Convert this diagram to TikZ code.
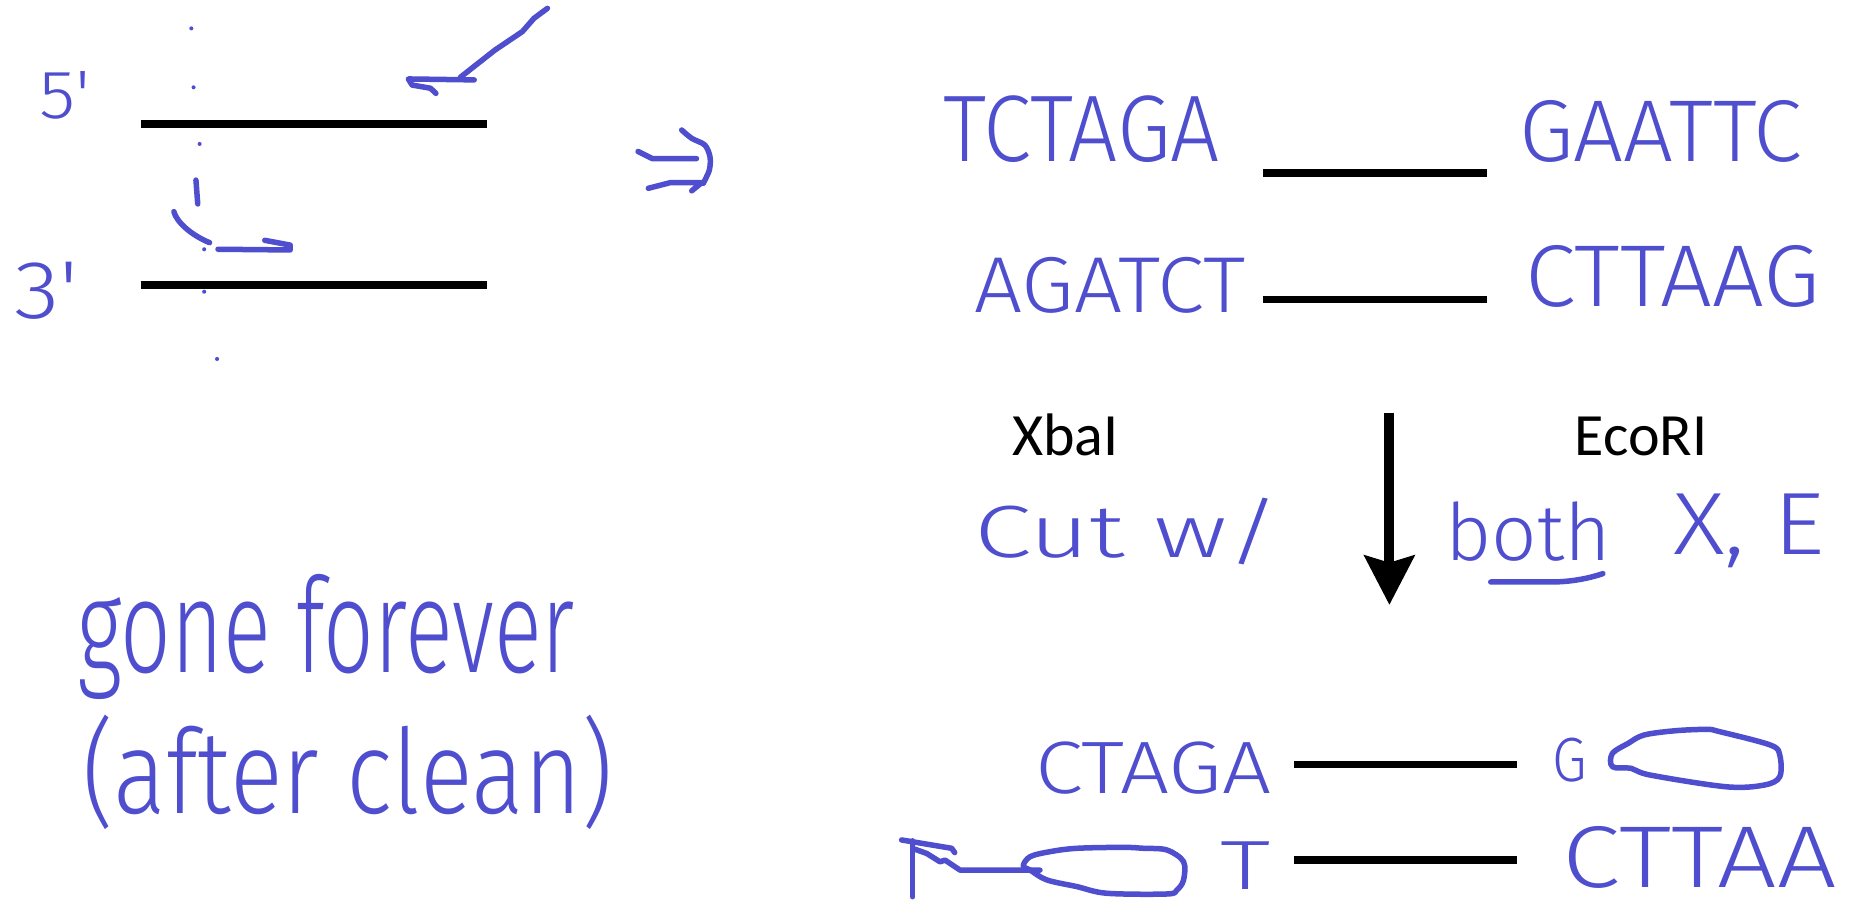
\documentclass[tikz,border=0pt]{standalone}
\usepackage{fontspec}
\usepackage{graphicx}
\usetikzlibrary{arrows.meta}
\newfontfamily\hw{Fira Sans Light}
\newfontfamily\calib{Carlito}
\definecolor{ink}{RGB}{78,78,206}
\newlength\uu \setlength\uu{1.1926pt}
\newcommand\hwt[3]{\resizebox*{#1\uu}{#2\uu}{\hw #3}}
\tikzset{
  hwn/.style={inner sep=0pt, outer sep=0pt, text=ink},
  pen/.style={draw=ink, line width=5.5pt, line cap=round, line join=round},
  dna/.style={draw=black, line width=7.5pt},
  speck/.style={fill=ink},
  lab/.style={inner sep=0pt, font=\calib\fontsize{60}{72}\selectfont, anchor=base},
}
\begin{document}
\begin{tikzpicture}[x=1.1926pt,y=-1.1926pt]
\useasboundingbox (0,0) rectangle (1568,757);

% ---------- left: double strand ----------
\draw[dna] (118,104) -- (408,104);
\draw[dna] (118,239) -- (408,239);
\node[hwn] (five)  at (54.5,80)  {\hwt{43}{40}{5\textquotesingle}};
\node[hwn] (three) at (39,244)   {\hwt{54}{48}{3\textquotesingle}};

% dotted cut line
\foreach \p in {(160.4,23.8),(162.3,73.2),(167.4,120.7),(171.2,209),(171.2,244.6),(182,301)}
  \fill[speck] \p circle (1.7);
\draw[pen] (164.3,151) -- (165.8,171);
\draw[pen] (145.8,177.5) .. controls (148,186) and (160,197) .. (175.8,203.5);
\draw[pen] (182.8,209) -- (243.3,209.6) -- (243.3,205.5) -- (222,201.5);

% hooked pointer at top
\draw[pen] (459,7) -- (447.7,15.4) -- (438,26.5) -- (415,42) -- (386,64.8);
\draw[pen] (397.6,67) -- (342.4,66.2) -- (345.5,71.3) -- (361,74) -- (365.5,78.3);

% implies sign
\draw[pen] (535,127) -- (547,133) -- (584,133);
\draw[pen] (543.6,157.9) -- (561.8,153.2) -- (588.4,153.2) -- (580,160);
\draw[pen] plot[smooth] coordinates {(571.6,109) (580,116) (591,121.6) (595.3,131.4) (594.8,142.5) (589.7,153.7)};

% gone forever
\node[hwn] (gone)  at (273.5,534.5) {\hwt{417}{105}{gone forever}};
\node[hwn] (after) at (291.5,648)   {\hwt{445}{96}{(after clean)}};

% ---------- right: fragment ----------
\node[hwn] (tctaga) at (907,108)     {\hwt{232}{56}{TCTAGA}};
\node[hwn] (gaattc) at (1392.5,110)  {\hwt{237}{52}{GAATTC}};
\node[hwn] (agatct) at (930.5,239.5) {\hwt{227}{47}{AGATCT}};
\node[hwn] (cttaag) at (1402.5,232)  {\hwt{247}{52}{CTTAAG}};
\draw[dna] (1059,145) -- (1247,145);
\draw[dna] (1059,251) -- (1247,251);

% enzymes and arrow
\node[lab] (xbai)  at (893.5,382) {XbaI};
\node[lab] (ecori) at (1376,382)  {EcoRI};
\coordinate (atop) at (1165,346);
\coordinate (atip) at (1165,507);
\draw[line width=10pt, -{Stealth[length=50pt, width=52pt, inset=8pt, line width=0pt]}] (atop) -- (atip);

\node[hwn] (cutw) at (945.5,446)  {\hwt{257}{56}{Cut w/}};
\node[hwn] (both) at (1281.5,446) {\hwt{139}{50}{both}};
\node[hwn] (xe)   at (1466.5,445) {\hwt{127}{62}{X, E}};
\draw[pen] (1250,488) -- (1300,488) .. controls (1320,488) and (1335,484) .. (1344,481);

% ---------- cut products ----------
\node[hwn] (ctaga) at (967,644)      {\hwt{198}{44}{CTAGA}};
\draw[dna] (1085,641) -- (1272,641);
\node[hwn] (g)     at (1316.5,637.5) {\hwt{29}{37}{G}};
\draw[pen] plot[smooth cycle, tension=0.55] coordinates {(1352,631.7) (1365.2,623.3) (1378.5,616.3) (1404.9,612.7) (1431.4,611.6) (1442,613.5) (1484.4,624.7) (1492.3,633.1) (1492.3,651.3) (1479.1,658.3) (1447.3,659.7) (1383.8,649.9) (1367.9,644.3) (1352,642.9)};

\draw[pen] (765.3,705) -- (765.3,751.9);
\draw[pen] (756,704.3) -- (798,711.3) -- (800.5,714.9);
\draw[pen] (765.3,711.4) -- (777,715.6) -- (788.2,722.6) -- (792.4,721.2) -- (805,729.6) -- (872,729.6);
\draw[pen] plot[smooth cycle, tension=0.55] coordinates {(858,726) (863.8,718.3) (880.5,714.1) (902.9,711.3) (942,710.5) (958.8,711.3) (978.4,712.7) (992.4,722.5) (992.4,737.9) (986.8,746.3) (978.4,749.6) (928.1,749) (902.9,743.4) (877.7,737.8) (863.8,729.6)};
\node[hwn] (t)     at (1044,726)  {\hwt{42}{40}{T}};
\draw[dna] (1085,721) -- (1272,721);
\node[hwn] (cttaa) at (1425,719)  {\hwt{230}{52}{CTTAA}};
\end{tikzpicture}
\end{document}
